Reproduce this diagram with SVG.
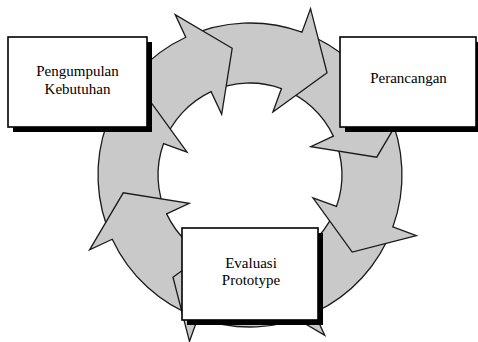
<svg xmlns="http://www.w3.org/2000/svg" width="478" height="342" viewBox="0 0 478 342">
<style>
.arr{fill:#c9c9c9;stroke:#1a1a1a;stroke-width:1.3;stroke-linejoin:miter}
.shadow{fill:#000}
.box{fill:#fff;stroke:#000;stroke-width:1.6}
.lbl{font-family:"Liberation Serif","Times New Roman",serif;font-size:15px;fill:#000;text-anchor:middle}
</style>
<rect width="478" height="342" fill="#fff"/>
<g id="connectors">
<path class="arr" d="M392.83,226.98 A152,152 0 0 1 314.24,312.76 L324.80,335.42 L267.82,301.76 L278.31,235.72 L288.88,258.38 A92,92 0 0 0 336.45,206.46 Z"/>
<path class="arr" d="M387.76,110.76 A152,152 0 0 1 392.83,226.98 L416.33,235.53 L352.22,252.03 L312.96,197.91 L336.45,206.46 A92,92 0 0 0 333.38,136.12 Z"/>
<path class="arr" d="M301.98,32.17 A152,152 0 0 1 387.76,110.76 L410.42,100.20 L376.76,157.18 L310.72,146.69 L333.38,136.12 A92,92 0 0 0 281.46,88.55 Z"/>
<path class="arr" d="M185.76,37.24 A152,152 0 0 1 301.98,32.17 L310.53,8.67 L327.03,72.78 L272.91,112.04 L281.46,88.55 A92,92 0 0 0 211.12,91.62 Z"/>
<path class="arr" d="M107.17,123.02 A152,152 0 0 1 185.76,37.24 L175.20,14.58 L232.18,48.24 L221.69,114.28 L211.12,91.62 A92,92 0 0 0 163.55,143.54 Z"/>
<path class="arr" d="M112.24,239.24 A152,152 0 0 1 107.17,123.02 L83.67,114.47 L147.78,97.97 L187.04,152.09 L163.55,143.54 A92,92 0 0 0 166.62,213.88 Z"/>
<path class="arr" d="M198.02,317.83 A152,152 0 0 1 112.24,239.24 L89.58,249.80 L123.24,192.82 L189.28,203.31 L166.62,213.88 A92,92 0 0 0 218.54,261.45 Z"/>
<path class="arr" d="M314.24,312.76 A152,152 0 0 1 198.02,317.83 L189.47,341.33 L172.97,277.22 L227.09,237.96 L218.54,261.45 A92,92 0 0 0 288.88,258.38 Z"/>
</g>
<g id="pengumpulan">
<rect class="shadow" x="13" y="42" width="139" height="90"/>
<rect class="box" x="8" y="37" width="139" height="90"/>
<text class="lbl" x="77.5" y="76">Pengumpulan</text>
<text class="lbl" x="77.5" y="93.5">Kebutuhan</text>
</g>
<g id="perancangan">
<rect class="shadow" x="345" y="42" width="136" height="90"/>
<rect class="box" x="340" y="37" width="136" height="90"/>
<text class="lbl" x="408.5" y="83">Perancangan</text>
</g>
<g id="evaluasi">
<rect class="shadow" x="187" y="233" width="136" height="92"/>
<rect class="box" x="182" y="228" width="136" height="92"/>
<text class="lbl" x="251" y="268">Evaluasi</text>
<text class="lbl" x="251" y="285">Prototype</text>
</g>
</svg>
